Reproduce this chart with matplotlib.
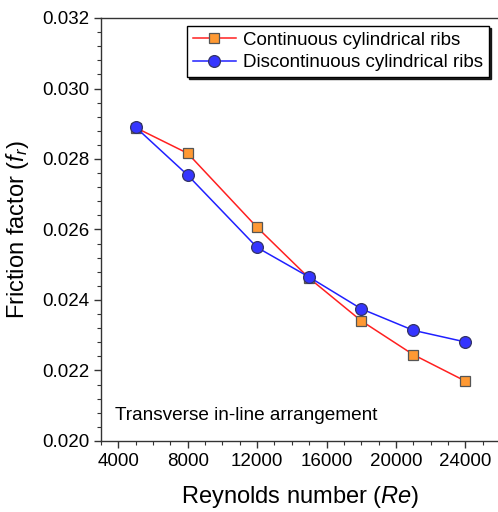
import matplotlib
matplotlib.use("Agg")
import matplotlib.pyplot as plt
from matplotlib.ticker import MultipleLocator, FormatStrFormatter

plt.rcParams['font.family'] = ['Liberation Sans', 'DejaVu Sans']
plt.rcParams['mathtext.fontset'] = 'custom'
plt.rcParams['mathtext.rm'] = 'Liberation Sans'
plt.rcParams['mathtext.it'] = 'Liberation Sans:italic'

re_vals = [5000, 8000, 12000, 15000, 18000, 21000, 24000]
f_continuous = [0.02889, 0.02816, 0.02606, 0.02462, 0.02341, 0.02245, 0.02170]
f_discontinuous = [0.02890, 0.02754, 0.02549, 0.02465, 0.02375, 0.02314, 0.02281]

fig = plt.figure(figsize=(4.98, 5.12), dpi=100)
W, H = 498, 512
ax = fig.add_axes([101 / W, 1 - 441 / H, 399 / W, (441 - 18) / H])

ax.plot(re_vals, f_continuous, color='#ff2020', lw=1.1, marker='s', ms=6.8,
        mfc='#ff9933', mec='#555555', mew=0.9, label='Continuous cylindrical ribs', zorder=3)
ax.plot(re_vals, f_discontinuous, color='#2020ff', lw=1.1, marker='o', ms=8.5,
        mfc='#3535ff', mec='#333366', mew=0.9, label='Discontinuous cylindrical ribs', zorder=4)

ax.set_xlim(3000, 26000)
ax.set_ylim(0.020, 0.032)
ax.xaxis.set_major_locator(MultipleLocator(4000))
ax.xaxis.set_minor_locator(MultipleLocator(1000))
ax.yaxis.set_major_locator(MultipleLocator(0.002))
ax.yaxis.set_minor_locator(MultipleLocator(0.0004))
ax.yaxis.set_major_formatter(FormatStrFormatter('%.3f'))
ax.set_xticks([4000, 8000, 12000, 16000, 20000, 24000])

ax.tick_params(which='major', direction='out', length=5, width=1, labelsize=13.5, color='#333333')
ax.tick_params(which='minor', direction='out', length=3, width=0.8, color='#333333')
for s in ax.spines.values():
    s.set_linewidth(1.0)
    s.set_color('#333333')

ax.set_xlabel(r'Reynolds number ($\mathit{Re}$)', fontsize=17, labelpad=10)
ax.set_ylabel(r'Friction factor ($\mathit{f}_\mathit{r}$)', fontsize=17, labelpad=8)

ax.text(0.035, 0.04, 'Transverse in-line arrangement', transform=ax.transAxes,
        fontsize=13.7, ha='left', va='bottom')

leg = ax.legend(loc='upper right', bbox_to_anchor=(0.982, 0.99), fontsize=13.5,
                frameon=True, fancybox=False,
                shadow={'ox': 1.5, 'oy': -1.5, 'color': 'black', 'alpha': 0.85},
                handlelength=2.3, borderpad=0.3, labelspacing=0.3,
                handletextpad=0.4, borderaxespad=0.2)
leg.get_frame().set_edgecolor('black')
leg.get_frame().set_linewidth(1.0)

fig.savefig('out.png', dpi=100)
